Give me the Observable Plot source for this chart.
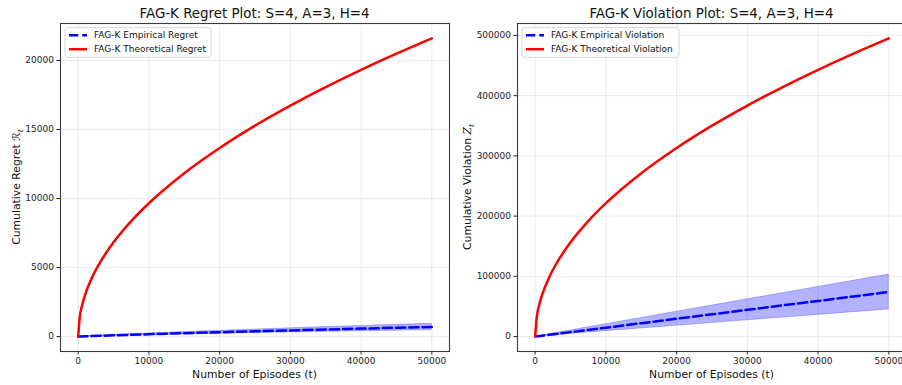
<!DOCTYPE html>
<html><head><meta charset="utf-8">
<script src="https://cdn.jsdelivr.net/npm/d3@7"></script>
<script src="https://cdn.jsdelivr.net/npm/@observablehq/plot@0.6"></script>
<style>
body{margin:0;background:#fff;}
#wrap{position:relative;width:902px;height:385px;overflow:hidden;background:#fff;font-family:"DejaVu Sans",sans-serif;}
#wrap svg{position:absolute;top:0;overflow:visible;}
</style></head><body><div id="wrap"></div>
<script>
// Episodes (t)
const episodes = [0, 250, 500, 1000, 2000, 3000, 5000, 7500, 10000, 15000, 20000, 25000, 30000, 35000, 40000, 45000, 50000];
// Regret
const regretTheory = [0, 1530, 2160, 3060, 4320, 5290, 6830, 8370, 9660, 11830, 13660, 15280, 16730, 18070, 19320, 20490, 21600];
const regretMean  = [0, 5, 10, 20, 38, 55, 90, 130, 170, 245, 315, 385, 450, 515, 580, 640, 700];
const regretUpper = [0, 8, 15, 28, 55, 80, 125, 180, 230, 330, 420, 510, 600, 690, 770, 850, 930];
const regretLower = [0, 2, 5, 12, 22, 32, 55, 80, 110, 160, 210, 260, 300, 345, 390, 430, 470];
// Violation
const violTheory = [0, 35000, 49500, 70000, 99000, 121300, 156500, 191700, 221400, 271200, 313100, 350100, 383500, 414200, 442800, 469700, 495000];
const violMean  = [0, 370, 740, 1480, 2960, 4440, 7400, 11100, 14800, 22200, 29600, 37000, 44400, 51800, 59200, 66600, 74000];
const violUpper = [0, 520, 1040, 2080, 4150, 6200, 10300, 15500, 20600, 30900, 41200, 51500, 61800, 72100, 82400, 92700, 103000];
const violLower = [0, 220, 450, 900, 1800, 2700, 4500, 6750, 9000, 13500, 18000, 22500, 27000, 31500, 36000, 40500, 45000];
// Ticks
const xTicks = [0, 10000, 20000, 30000, 40000, 50000];
const regretTicks = [0, 5000, 10000, 15000, 20000];
const violTicks = [0, 100000, 200000, 300000, 400000, 500000];

const H = 385, mTop = 23, mBottom = 34;
const wrap = document.getElementById("wrap");

function panel(cfg) {
  const rows = episodes.map((t, i) => ({t, theory: cfg.theory[i], mean: cfg.mean[i], lo: cfg.lo[i], hi: cfg.hi[i]}));
  const svg = Plot.plot({
    width: cfg.width, height: H,
    marginLeft: cfg.mL, marginRight: cfg.mR, marginTop: mTop, marginBottom: mBottom,
    style: {fontFamily: "DejaVu Sans", fontSize: "9px", background: "transparent", color: "#222"},
    x: {domain: [-2500, 52500]},
    y: {domain: cfg.yDomain},
    marks: [
      Plot.gridX(xTicks, {stroke: "#b0b0b0", strokeOpacity: 0.3, strokeWidth: 0.8}),
      Plot.gridY(cfg.yTicks, {stroke: "#b0b0b0", strokeOpacity: 0.3, strokeWidth: 0.8}),
      Plot.areaY(rows, {x: "t", y1: "lo", y2: "hi", fill: "blue", fillOpacity: 0.3, stroke: "blue", strokeOpacity: 0.3, strokeWidth: 0.8}),
      Plot.line(rows, {x: "t", y: "mean", stroke: "blue", strokeWidth: 2.5, strokeDasharray: "9.25,4"}),
      Plot.line(rows, {x: "t", y: "theory", stroke: "red", strokeWidth: 2.5, curve: "monotone-x"}),
      Plot.frame({stroke: "#3a3a3a", strokeWidth: 1.1}),
      Plot.axisX(xTicks, {tickSize: 3.5, tickPadding: 3, fontSize: 9, label: null, tickFormat: "d", stroke: "#222"}),
      Plot.axisY(cfg.yTicks, {tickSize: 3.5, tickPadding: 3, fontSize: 9, label: null, tickFormat: "d", stroke: "#222"})
    ]
  });
  svg.style.left = cfg.left + "px";
  wrap.appendChild(svg);
  const s = d3.select(svg);
  const fx0 = cfg.mL, fx1 = cfg.width - cfg.mR, cx = (fx0 + fx1) / 2;
  // title
  s.append("text").attr("x", cx).attr("y", 17.5).attr("text-anchor", "middle")
    .attr("font-size", 13.4).attr("fill", "#111").text(cfg.title);
  // x label
  s.append("text").attr("x", cx).attr("y", 378).attr("text-anchor", "middle")
    .attr("font-size", 10.8).attr("fill", "#111").text("Number of Episodes (t)");
  // y label
  const yl = s.append("text").attr("transform", `translate(${cfg.ylx},${(mTop + H - mBottom) / 2}) rotate(-90)`)
    .attr("text-anchor", "middle").attr("font-size", 10.8).attr("fill", "#111");
  yl.append("tspan").text(cfg.ylabel + " ");
  yl.append("tspan").attr("font-family", cfg.symFont).attr("font-style", cfg.symStyle).text(cfg.sym);
  yl.append("tspan").attr("font-size", 7.5).attr("dy", 2.5).attr("font-style", "italic").text("t");
  // legend
  const lg = s.append("g").attr("transform", `translate(${fx0 + 5},27.7)`).attr("text-anchor", "start");
  lg.append("rect").attr("width", cfg.legW).attr("height", 29.6).attr("rx", 2.5)
    .attr("fill", "white").attr("fill-opacity", 0.8).attr("stroke", "#cccccc").attr("stroke-width", 0.8);
  lg.append("line").attr("x1", 4).attr("x2", 22).attr("y1", 7.5).attr("y2", 7.5)
    .attr("stroke", "blue").attr("stroke-width", 2.5).attr("stroke-dasharray", "9.25,4");
  lg.append("line").attr("x1", 4).attr("x2", 22).attr("y1", 21.5).attr("y2", 21.5)
    .attr("stroke", "red").attr("stroke-width", 2.5);
  lg.append("text").attr("x", 29).attr("y", 7.5).attr("dy", "0.35em").attr("text-anchor", "start").attr("font-size", 9).attr("fill", "#111").text(cfg.leg[0]);
  lg.append("text").attr("x", 29).attr("y", 21.5).attr("dy", "0.35em").attr("text-anchor", "start").attr("font-size", 9).attr("fill", "#111").text(cfg.leg[1]);
}

panel({
  left: 0, width: 451, mL: 60, mR: 2,
  yDomain: [-1080, 22680], yTicks: regretTicks,
  theory: regretTheory, mean: regretMean, lo: regretLower, hi: regretUpper,
  title: "FAG-K Regret Plot: S=4, A=3, H=4",
  ylabel: "Cumulative Regret", sym: "\u211B", symFont: "DejaVu Sans", symStyle: "normal", ylx: 20,
  leg: ["FAG-K Empirical Regret", "FAG-K Theoretical Regret"], legW: 146
});
panel({
  left: 451, width: 455, mL: 66, mR: 0,
  yDomain: [-24750, 519750], yTicks: violTicks,
  theory: violTheory, mean: violMean, lo: violLower, hi: violUpper,
  title: "FAG-K Violation Plot: S=4, A=3, H=4",
  ylabel: "Cumulative Violation", sym: "Z", symFont: "DejaVu Serif", symStyle: "italic", ylx: 20,
  leg: ["FAG-K Empirical Violation", "FAG-K Theoretical Violation"], legW: 157
});
</script></body></html>
